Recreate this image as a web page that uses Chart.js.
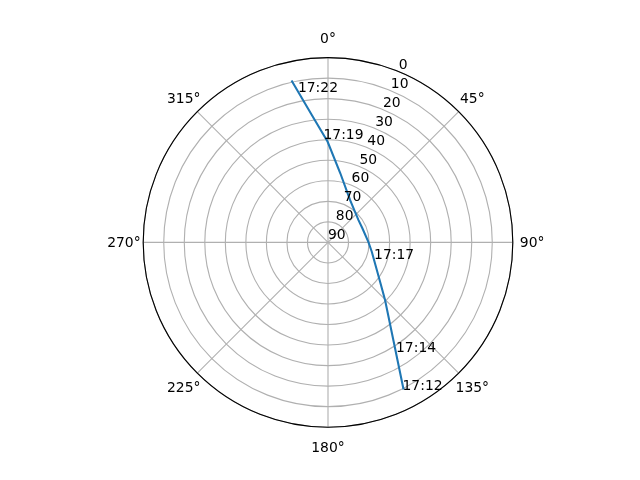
<!DOCTYPE html>
<html>
<head>
<meta charset="utf-8">
<script src="https://cdn.jsdelivr.net/npm/chart.js@4.4.1/dist/chart.umd.min.js"></script>
<style>
  html, body { margin: 0; padding: 0; background: #ffffff; }
  canvas { display: block; }
</style>
</head>
<body>
<canvas id="skyplot" width="640" height="480"></canvas>
<script>
// Satellite pass track: azimuth (deg, clockwise from north) and elevation (deg)
const trackAz = [152.8, 146.2, 135.3, 126.1, 102.0, 89.0, 67.2, 53.5, 27.4, 10.1, 359.8, 352.75, 347.3];
const trackEl = [9.5, 32.8, 50.5, 58.9, 68.2, 70.4, 71.9, 71.6, 66.7, 55.8, 41.0, 27.5, 9.2];

// Time annotations along the pass
const labelTimes = ['17:12', '17:14', '17:17', '17:19', '17:22'];
const labelAz = [153.2, 148.1, 110.2, 357.5, 348.7];
const labelEl = [9.5, 27.3, 66.1, 39.6, 15.3];

// Axis ticks
const radialTicks = [0, 10, 20, 30, 40, 50, 60, 70, 80, 90];
const thetaTicks = [0, 45, 90, 135, 180, 225, 270, 315];

const FONT = '13.9px "DejaVu Sans", sans-serif';
const PT = 100 / 72;

// elevation 90 sits in the middle, elevation 0 on the rim
function toXY(az, el) {
    const r = 90 - el;
    const a = az * Math.PI / 180;
    return { x: r * Math.sin(a), y: r * Math.cos(a) };
}

const trackPoints = trackAz.map((az, i) => toXY(az, trackEl[i]));

const polarPlugin = {
    id: 'polarPlugin',
    beforeDatasetsDraw(chart) {
        const ctx = chart.ctx;
        const xs = chart.scales.x, ys = chart.scales.y;
        const cx = xs.getPixelForValue(0), cy = ys.getPixelForValue(0);
        const R = xs.getPixelForValue(90) - cx;

        ctx.save();
        ctx.strokeStyle = '#b0b0b0';
        ctx.lineWidth = 0.8 * PT;
        // rings
        radialTicks.forEach(v => {
            const r = xs.getPixelForValue(90 - v) - cx;
            if (r <= 0) return;
            ctx.beginPath();
            ctx.arc(cx, cy, r, 0, Math.PI * 2);
            ctx.stroke();
        });
        // spokes
        thetaTicks.forEach(t => {
            const a = t * Math.PI / 180;
            ctx.beginPath();
            ctx.moveTo(cx, cy);
            ctx.lineTo(cx + R * Math.sin(a), cy - R * Math.cos(a));
            ctx.stroke();
        });
        ctx.restore();
    },
    afterDatasetsDraw(chart) {
        const ctx = chart.ctx;
        const xs = chart.scales.x, ys = chart.scales.y;
        const cx = xs.getPixelForValue(0), cy = ys.getPixelForValue(0);
        const R = xs.getPixelForValue(90) - cx;

        ctx.save();
        // outer spine
        ctx.strokeStyle = '#000000';
        ctx.lineWidth = 0.8 * PT;
        ctx.beginPath();
        ctx.arc(cx, cy, R, 0, Math.PI * 2);
        ctx.stroke();

        ctx.fillStyle = '#000000';
        ctx.font = FONT;

        // radial tick labels along 22.5 deg
        const la = 22.5 * Math.PI / 180;
        ctx.textAlign = 'left';
        ctx.textBaseline = 'alphabetic';
        radialTicks.forEach(v => {
            const r = xs.getPixelForValue(90 - v) - cx;
            ctx.fillText(String(v), cx + r * Math.sin(la), cy - r * Math.cos(la) - 3);
        });

        // angle labels
        ctx.textAlign = 'center';
        const lr = R + 19.3;
        thetaTicks.forEach(t => {
            const a = t * Math.PI / 180;
            ctx.fillText(t + '°', cx + lr * Math.sin(a), cy - lr * Math.cos(a) + 5);
        });

        // time labels
        ctx.textAlign = 'left';
        labelTimes.forEach((txt, i) => {
            const p = toXY(labelAz[i], labelEl[i]);
            ctx.fillText(txt, xs.getPixelForValue(p.x), ys.getPixelForValue(p.y));
        });
        ctx.restore();
    }
};

new Chart(document.getElementById('skyplot'), {
    type: 'scatter',
    data: {
        datasets: [{
            data: trackPoints,
            showLine: true,
            borderColor: '#1f77b4',
            borderWidth: 1.5 * PT,
            pointRadius: 0,
            tension: 0,
            fill: false
        }]
    },
    options: {
        responsive: false,
        animation: false,
        layout: { padding: { left: 143.2, right: 127.2, top: 57.6, bottom: 52.8 } },
        scales: {
            x: { type: 'linear', min: -90, max: 90, display: false },
            y: { type: 'linear', min: -90, max: 90, display: false }
        },
        plugins: {
            legend: { display: false },
            tooltip: { enabled: false }
        }
    },
    plugins: [polarPlugin]
});
</script>
</body>
</html>
